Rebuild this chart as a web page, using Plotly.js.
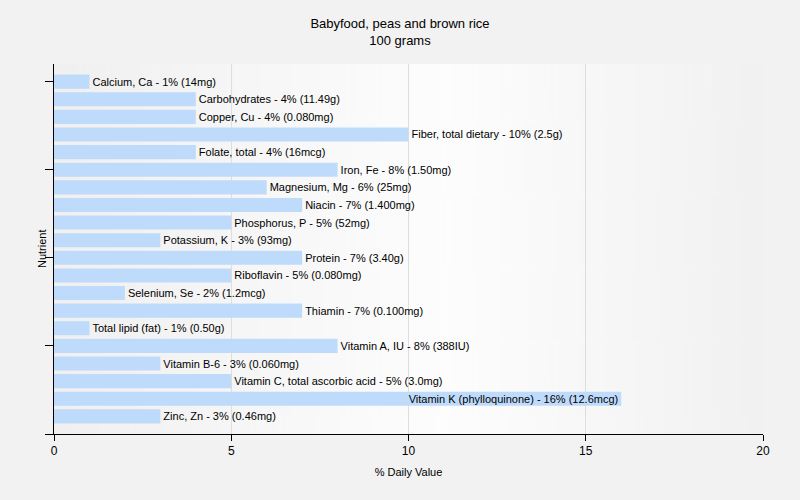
<!DOCTYPE html>
<html>
<head>
<meta charset="utf-8">
<script src="https://cdn.plot.ly/plotly-3.0.1.min.js"></script>
<style>html,body{margin:0;padding:0;background:#f2f2f2;}#chart{width:800px;height:500px;}</style>
</head>
<body>
<div id="chart"></div>
<script>
const nutrients = ["Calcium, Ca","Carbohydrates","Copper, Cu","Fiber, total dietary","Folate, total","Iron, Fe","Magnesium, Mg","Niacin","Phosphorus, P","Potassium, K","Protein","Riboflavin","Selenium, Se","Thiamin","Total lipid (fat)","Vitamin A, IU","Vitamin B-6","Vitamin C, total ascorbic acid","Vitamin K (phylloquinone)","Zinc, Zn"];
const dailyValue = [1,4,4,10,4,8,6,7,5,3,7,5,2,7,1,8,3,5,16,3];
const amounts = ["14mg","11.49g","0.080mg","2.5g","16mcg","1.50mg","25mg","1.400mg","52mg","93mg","3.40g","0.080mg","1.2mcg","0.100mg","0.50g","388IU","0.060mg","3.0mg","12.6mcg","0.46mg"];
const xTicks = [0,5,10,15,20];

// gradient background image
const cv = document.createElement('canvas');
cv.width = 400; cv.height = 10;
const cx = cv.getContext('2d');
const g = cx.createLinearGradient(0,0,400,0);
g.addColorStop(0,'#f0f0f0');
g.addColorStop(0.55,'#fdfdfd');
g.addColorStop(1,'#f1f1f1');
cx.fillStyle = g; cx.fillRect(0,0,400,10);
const bg = cv.toDataURL();

const maxV = Math.max(...dailyValue);
const idx = nutrients.map((_, i) => i);
const labels = nutrients.map((n, i) => n + ' - ' + dailyValue[i] + '% (' + amounts[i] + ')');
const FONT = 'Liberation Sans, Arial, sans-serif';

const trace = {
  type: 'bar',
  orientation: 'h',
  x: dailyValue,
  y: idx,
  width: 0.8,
  text: labels,
  textposition: dailyValue.map(v => v === maxV ? 'inside' : 'outside'),
  insidetextanchor: 'end',
  constraintext: 'none',
  cliponaxis: false,
  textfont: {family: FONT, size: 11, color: '#000'},
  insidetextfont: {family: FONT, size: 11, color: '#000'},
  outsidetextfont: {family: FONT, size: 11, color: '#000'},
  marker: {color: '#bfdbfb', line: {width: 0}},
  hoverinfo: 'none'
};

const layout = {
  width: 800, height: 500,
  paper_bgcolor: '#f2f2f2',
  plot_bgcolor: 'rgba(0,0,0,0)',
  margin: {l: 54, r: 37, t: 64, b: 66},
  showlegend: false,
  font: {family: FONT, size: 12, color: '#000'},
  title: {
    text: 'Babyfood, peas and brown rice<br>100 grams',
    x: 0.5, xanchor: 'center', y: 0.944, yanchor: 'top',
    font: {family: FONT, size: 13, color: '#000'}
  },
  images: [{source: bg, xref: 'paper', yref: 'paper', x: 0, y: 1, sizex: 1, sizey: 1,
            sizing: 'stretch', layer: 'below', xanchor: 'left', yanchor: 'top'}],
  annotations: [{
    text: 'Nutrient', textangle: -90, xref: 'paper', yref: 'paper',
    x: 0, y: 0.5, xanchor: 'center', yanchor: 'middle', xshift: -12, showarrow: false,
    font: {family: FONT, size: 11, color: '#000'}
  }],
  xaxis: {
    range: [0, 20],
    tickvals: xTicks,
    ticktext: xTicks.map(String),
    ticks: 'outside', ticklen: 6, tickcolor: '#000',
    showline: true, linecolor: '#000', linewidth: 1,
    showgrid: true, gridcolor: '#dedede', gridwidth: 1,
    zeroline: false,
    tickfont: {size: 12},
    title: {text: '% Daily Value', font: {size: 11}, standoff: 10}
  },
  yaxis: {
    range: [20, -1],
    tickvals: [0,5,10,15,20],
    ticktext: ['','','','',''],
    ticks: 'outside', ticklen: 8, tickcolor: '#000',
    showline: true, linecolor: '#000', linewidth: 1,
    showgrid: false, zeroline: false
  }
};

Plotly.newPlot('chart', [trace], layout, {displayModeBar: false, staticPlot: true});
</script>
</body>
</html>
